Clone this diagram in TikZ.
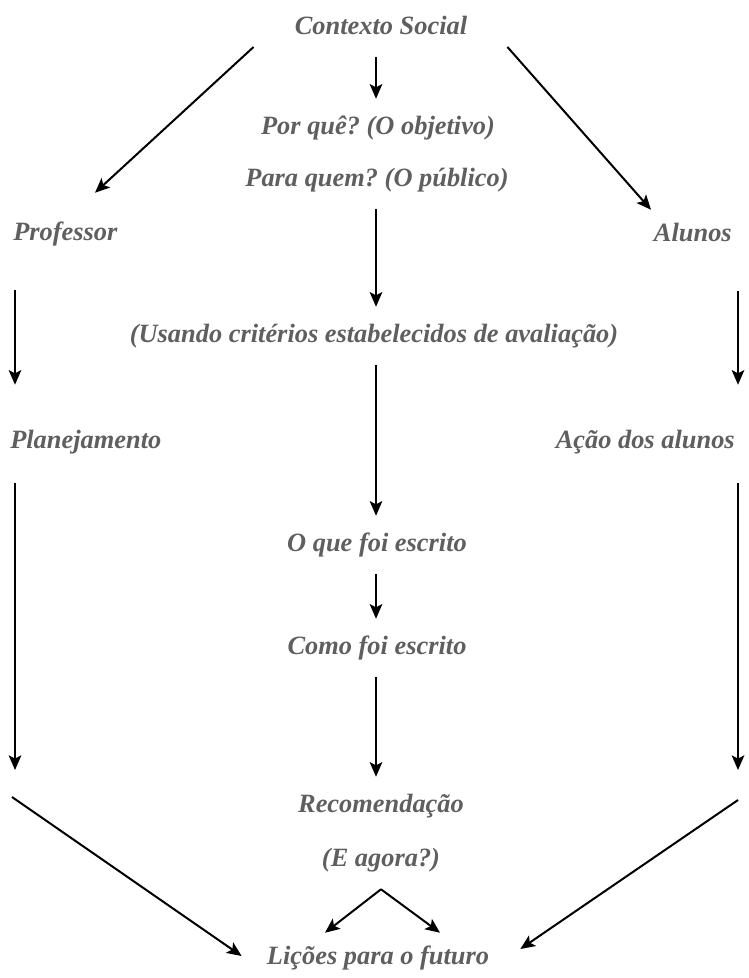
\documentclass[tikz,border=0pt]{standalone}
\usepackage{fontspec}
\setmainfont{Liberation Serif}
\usetikzlibrary{arrows.meta}
\definecolor{labelgray}{RGB}{95,95,95}
\frenchspacing

\begin{document}
\begin{tikzpicture}[
  x=0.75pt,y=-0.75pt,
  lbl/.style={font=\fontsize{19.8}{22}\selectfont\bfseries\itshape,text=labelgray,
    inner sep=0pt,text height=14.5pt,text depth=4.5pt,minimum height=43.5pt},
  side/.style={lbl,minimum height=84pt},
  arr/.style={draw=black,line width=1.5pt,-{Stealth[length=11pt,width=9.5pt,inset=2.5pt]}}
]
  \useasboundingbox (0,0) rectangle (749,978);
  % middle column
  \node[lbl] (ctx) at (381,28) {Contexto Social};
  \node[lbl] (porque) at (378,128) {Por quê? (O objetivo)};
  \node[lbl] (paraquem) at (377,180) {Para quem? (O público)};
  \node[lbl] (usando) at (374,336) {(Usando critérios estabelecidos de avaliação)};
  \node[lbl] (oque) at (377,545) {O que foi escrito};
  \node[lbl] (como) at (377,648) {Como foi escrito};
  \node[lbl] (recom) at (381,806) {Recomendação};
  \node[lbl] (eagora) at (381,860) {(E agora?)};
  \node[lbl] (licoes) at (378,958) {Lições para o futuro};
  % side columns
  \node[side,anchor=west] (prof) at (13,234) {Professor};
  \node[side,anchor=west] (plan) at (10,442) {Planejamento};
  \node[side,anchor=east] (alunos) at (732,235) {Alunos};
  \node[side,anchor=east] (acao) at (735,442) {Ação dos alunos};
  \coordinate (lend) at (15,770);
  \coordinate (rend) at (738,770);
  \coordinate (lstart) at (12,797);
  \coordinate (rstart) at (738,800);

  \draw[arr] ([shift={(-5,0)}]ctx.south) -- ([shift={(-2,0)}]porque.north);
  \draw[arr] ([shift={(-1,0)}]paraquem.south) -- ([shift={(2,0)}]usando.north);
  \draw[arr] ([shift={(2,0)}]usando.south) -- ([shift={(-1,0)}]oque.north);
  \draw[arr] ([shift={(-1,0)}]oque.south) -- ([shift={(-1,0)}]como.north);
  \draw[arr] ([shift={(-1,0)}]como.south) -- ([shift={(-5,0)}]recom.north);

  \draw[arr] ([shift={(-41,19)}]ctx.west) -- ([shift={(82,15)}]prof.north west);
  \draw[arr] ([shift={(40,19)}]ctx.east) -- ([shift={(-81,31)}]alunos.north east);

  \draw[arr] ([shift={(2,0)}]prof.south west) -- ([shift={(5,-1)}]plan.north west);
  \draw[arr] ([shift={(5,-15)}]plan.south west) -- (lend);
  \draw[arr] ([shift={(6,0)}]alunos.south east) -- ([shift={(3,-1)}]acao.north east);
  \draw[arr] ([shift={(3,-15)}]acao.south east) -- (rend);

  \draw[arr] (lstart) -- ([shift={(-25,-2)}]licoes.west);
  \draw[arr] (rstart) -- ([shift={(31,-9)}]licoes.east);
  \draw[arr] (eagora.south) -- ([shift={(-53,4)}]licoes.north);
  \draw[arr] (eagora.south) -- ([shift={(62,4)}]licoes.north);
\end{tikzpicture}
\end{document}
